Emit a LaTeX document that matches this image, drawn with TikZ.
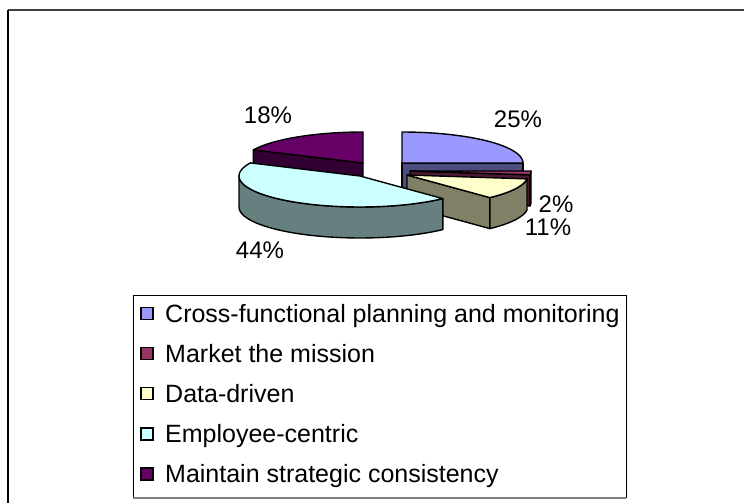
\documentclass[tikz,border=0pt]{standalone}
\usepackage{fontspec}
\setmainfont{Liberation Sans}
\usetikzlibrary{calc}
\definecolor{bluetop}{HTML}{9999FF}
\definecolor{blueside}{HTML}{4D4D80}
\definecolor{redtop}{HTML}{993366}
\definecolor{redside}{HTML}{4D1A33}
\definecolor{yellowtop}{HTML}{FFFFCC}
\definecolor{yellowside}{HTML}{808066}
\definecolor{cyantop}{HTML}{CCFFFF}
\definecolor{cyanside}{HTML}{668080}
\definecolor{purpletop}{HTML}{660066}
\definecolor{purpleside}{HTML}{330033}
\definecolor{framegray}{HTML}{404040}
\tikzset{
  face/.style={draw=black, line width=1.4pt, line join=round},
  pct/.style={font=\fontsize{24}{28}\selectfont, inner sep=0pt, anchor=base},
  key/.style={draw=black, line width=1.4pt, minimum width=12pt, minimum height=12pt, inner sep=0pt},
  keytext/.style={font=\fontsize{25}{28}\selectfont, inner sep=0pt, anchor=base west}
}
\newcommand\pieA{121}
\newcommand\pieB{31}
\begin{document}
\begin{tikzpicture}[x=1pt,y=-1pt]
  \useasboundingbox (0,0) rectangle (744,503);
  \fill[white] (0,0) rectangle (744,503);
  \draw[framegray,line width=2pt] (8,10) -- (744,10);
  \draw[black,line width=1.5pt] (8,10) -- (8,503);

  % slice centres
  \coordinate (cM) at (363,163);
  \coordinate (cC) at (402,163);
  \coordinate (cK) at (410,171);
  \coordinate (cD) at (407,175);
  \coordinate (cE) at (360,176);

  % maintain strategic consistency 18%
  \filldraw[face,fill=purpleside] (cM) -- ++(205:121 and 31) -- ++(0,31) -- ($(cM)+(0,31)$) -- cycle;
  \filldraw[face,fill=purpletop] (cM) -- plot[domain=205:270,samples=30] ({363+\pieA*cos(\x)},{163+\pieB*sin(\x)}) -- cycle;

  % cross-functional 25%
  \filldraw[face,fill=blueside] (cC) -- ++(0:121 and 31) -- ++(0,31) -- ($(cC)+(0,31)$) -- cycle;
  \filldraw[face,fill=bluetop] (cC) -- plot[domain=-90:0,samples=30] ({402+\pieA*cos(\x)},{163+\pieB*sin(\x)}) -- cycle;

  % market the mission 2%
  \filldraw[face,fill=redside] (cK) -- ++(7.2:121 and 31) -- ++(0,31) -- ($(cK)+(0,31)$) -- cycle;
  \filldraw[face,fill=redside] plot[domain=0:7.2,samples=5] ({410+\pieA*cos(\x)},{171+\pieB*sin(\x)})
    -- plot[domain=7.2:0,samples=5] ({410+\pieA*cos(\x)},{202+\pieB*sin(\x)}) -- cycle;
  \filldraw[face,fill=redtop] (cK) -- plot[domain=0:7.2,samples=5] ({410+\pieA*cos(\x)},{171+\pieB*sin(\x)}) -- cycle;

  % data-driven 11%
  \filldraw[face,fill=yellowside] (cD) -- ++(46.8:121 and 31) -- ++(0,31) -- ($(cD)+(0,31)$) -- cycle;
  \filldraw[face,fill=yellowside] plot[domain=7.2:46.8,samples=20] ({407+\pieA*cos(\x)},{175+\pieB*sin(\x)})
    -- plot[domain=46.8:7.2,samples=20] ({407+\pieA*cos(\x)},{206+\pieB*sin(\x)}) -- cycle;
  \filldraw[face,fill=yellowtop] (cD) -- plot[domain=7.2:46.8,samples=20] ({407+\pieA*cos(\x)},{175+\pieB*sin(\x)}) -- cycle;

  % employee-centric 44%
  \filldraw[face,fill=cyanside] plot[domain=46.8:180,samples=40] ({360+\pieA*cos(\x)},{176+\pieB*sin(\x)})
    -- plot[domain=180:46.8,samples=40] ({360+\pieA*cos(\x)},{207+\pieB*sin(\x)}) -- cycle;
  \filldraw[face,fill=cyantop] (cE) -- plot[domain=46.8:205,samples=50] ({360+\pieA*cos(\x)},{176+\pieB*sin(\x)}) -- cycle;

  % percentages
  \node[pct] (p25) at (518,127) {25\%};
  \node[pct] (p2) at (556,212) {2\%};
  \node[pct] (p11) at (548,235) {11\%};
  \node[pct] (p44) at (260,258) {44\%};
  \node[pct] (p18) at (268,123) {18\%};

  % legend
  \draw[black,line width=1pt] (133,498) -- (133,295) -- (626,295) -- (626,498);
  \draw[gray,line width=1.5pt] (133,498) -- (626,498);
  \node[key,fill=bluetop] (k1) at (147,313.5) {};
  \node[key,fill=redtop] (k2) at (147,353.6) {};
  \node[key,fill=yellowtop] (k3) at (147,393.7) {};
  \node[key,fill=cyantop] (k4) at (147,433.8) {};
  \node[key,fill=purpletop] (k5) at (147,474) {};
  \node[keytext] (t1) at (165,322) {Cross-functional planning and monitoring};
  \node[keytext] (t2) at (165,362) {Market the mission};
  \node[keytext] (t3) at (165,402) {Data-driven};
  \node[keytext] (t4) at (165,442) {Employee-centric};
  \node[keytext] (t5) at (165,482.5) {Maintain strategic consistency};
\end{tikzpicture}
\end{document}
